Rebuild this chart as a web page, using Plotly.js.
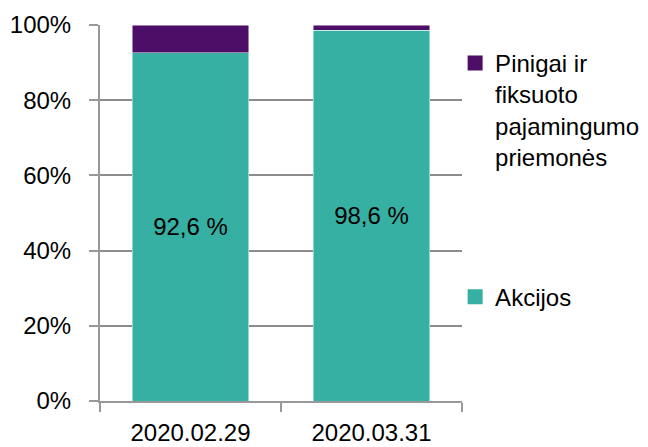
<!DOCTYPE html>
<html>
<head>
<meta charset="utf-8">
<script src="https://cdn.plot.ly/plotly-3.0.1.min.js"></script>
<style>html,body{margin:0;padding:0;background:#fff;}#chart{width:648px;height:447px;}</style>
</head>
<body>
<div id="chart"></div>
<script>
var categories = ['2020.02.29', '2020.03.31'];
var akcijos = [92.6, 98.6];
var pinigai = [7.4, 1.4];
var seriesNames = ['Akcijos', 'Pinigai ir<br>fiksuoto<br>pajamingumo<br>priemonės'];
var seriesColors = ['#35B0A3', '#4D0E67'];
var yTicks = [0, 20, 40, 60, 80, 100];
var yTickLabels = ['0%', '20%', '40%', '60%', '80%', '100%'];

var FONT = '"Liberation Sans", Arial, sans-serif';
var labels = akcijos.map(function (v) { return v.toFixed(1).replace('.', ',') + ' %'; });

var traces = [
  {
    type: 'bar', x: categories, y: akcijos, name: seriesNames[0],
    marker: { color: seriesColors[0], line: { color: 'rgba(255,255,255,0.6)', width: 0.8 } },
    text: labels, textposition: 'inside', insidetextanchor: 'middle', textangle: 0,
    textfont: { family: FONT, size: 24, color: '#000' }, constraintext: 'none',
    showlegend: false, legendgroup: 'a', hoverinfo: 'skip'
  },
  {
    type: 'bar', x: categories, y: pinigai, name: seriesNames[1],
    marker: { color: seriesColors[1], line: { color: 'rgba(255,255,255,0.6)', width: 0.8 } },
    textposition: 'none',
    showlegend: false, legendgroup: 'p', hoverinfo: 'skip'
  },
  // legend-only entries (larger square keys, no plotted points)
  {
    type: 'scatter', mode: 'markers', x: [null], y: [null], name: seriesNames[1],
    marker: { symbol: 'square', size: 15, color: seriesColors[1] },
    legend: 'legend', legendgroup: 'p', hoverinfo: 'skip'
  },
  {
    type: 'scatter', mode: 'markers', x: [null], y: [null], name: seriesNames[0],
    marker: { symbol: 'square', size: 15, color: seriesColors[0] },
    legend: 'legend2', legendgroup: 'a', hoverinfo: 'skip'
  }
];

var legendBase = {
  xanchor: 'left', yanchor: 'top', valign: 'top',
  font: { family: FONT, size: 24, color: '#000' },
  bgcolor: 'rgba(0,0,0,0)', borderwidth: 0, itemclick: false
};

var layout = {
  width: 648, height: 447,
  margin: { l: 100, r: 186, t: 25, b: 46, autoexpand: false },
  paper_bgcolor: '#fff', plot_bgcolor: '#fff',
  barmode: 'stack', bargap: 0.355,
  font: { family: FONT, size: 24, color: '#000' },
  showlegend: true,
  legend: Object.assign({}, legendBase, { x: 0.981, y: 0.958 }),
  legend2: Object.assign({}, legendBase, { x: 0.981, y: 0.336 }),
  xaxis: {
    type: 'category', tickson: 'boundaries', ticks: 'outside', ticklen: 9,
    tickcolor: '#999', tickwidth: 2, showline: true, linecolor: '#999', linewidth: 2,
    showgrid: false, tickfont: { family: FONT, size: 24, color: '#000' },
    ticklabelstandoff: 9, fixedrange: true, automargin: false
  },
  yaxis: {
    range: [0, 100], tickmode: 'array', tickvals: yTicks, ticktext: yTickLabels,
    ticks: 'outside', ticklen: 9,
    tickcolor: '#999', tickwidth: 2, showline: true, linecolor: '#999', linewidth: 2,
    showgrid: true, gridcolor: '#8c8c8c', gridwidth: 2, zeroline: false,
    tickfont: { family: FONT, size: 24, color: '#000' }, ticklabelstandoff: 13,
    fixedrange: true, automargin: false
  },
  hovermode: false
};

Plotly.newPlot('chart', traces, layout, { displayModeBar: false, staticPlot: true });
</script>
</body>
</html>
